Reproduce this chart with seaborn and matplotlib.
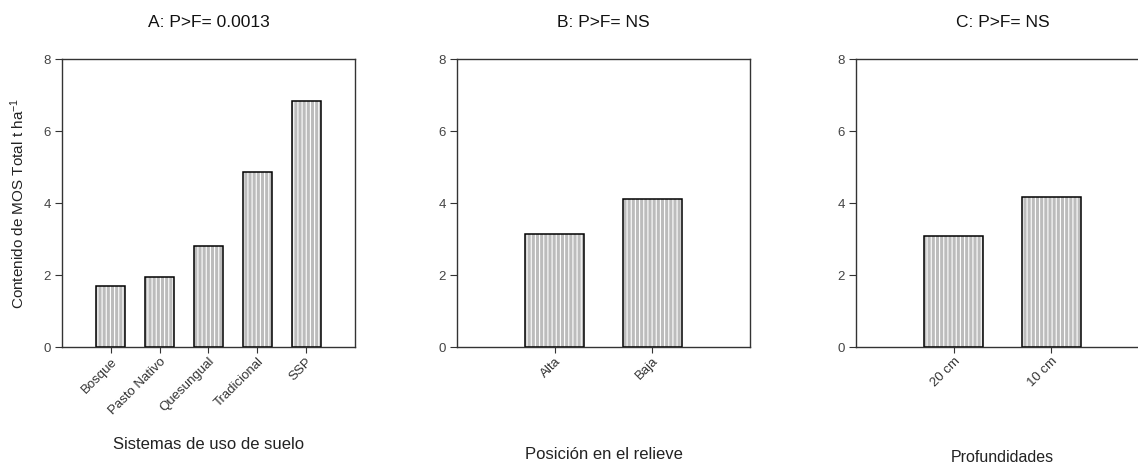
import matplotlib
matplotlib.use("Agg")
import matplotlib.pyplot as plt
import seaborn as sns

# Data
cats_a = ["Bosque", "Pasto Nativo", "Quesungual", "Tradicional", "SSP"]
vals_a = [1.69, 1.94, 2.81, 4.87, 6.84]
cats_b = ["Alta", "Baja"]
vals_b = [3.13, 4.12]
cats_c = ["20 cm", "10 cm"]
vals_c = [3.07, 4.18]
titles = ["A: P>F= 0.0013", "B: P>F= NS", "C: P>F= NS"]
xlabels = ["Sistemas de uso de suelo", "Posición en el relieve", "Profundidades"]
ylabel = "Contenido de MOS Total t ha$^{-1}$"
yticks = [0, 2, 4, 6, 8]

sns.set_style("white")
plt.rcParams["font.family"] = ["Liberation Sans", "DejaVu Sans"]
plt.rcParams["hatch.linewidth"] = 0.8
plt.rcParams["mathtext.fontset"] = "custom"
plt.rcParams["mathtext.rm"] = "Liberation Sans"
plt.rcParams["mathtext.it"] = "Liberation Sans"

W, H = 1138, 467
fig = plt.figure(figsize=(W / 100, H / 100), dpi=100)

def add_ax(left, right, top, bottom):
    return fig.add_axes([left / W, 1 - bottom / H, (right - left) / W, (bottom - top) / H])

axes = [add_ax(62, 355, 59, 347), add_ax(457, 750, 59, 347), add_ax(856, 1149, 59, 347)]
data = [(cats_a, vals_a), (cats_b, vals_b), (cats_c, vals_c)]
xlims = [(-1, 5), (-1, 2), (-1, 2)]
label_y = [-0.313, -0.347, -0.358]
label_fs = [12, 12, 11.5]
spine_col = "#333333"

for i, (ax, (cats, vals)) in enumerate(zip(axes, data)):
    sns.barplot(x=cats, y=vals, ax=ax, color="#bcbcbc", width=0.6,
                edgecolor="white", hatch="||||", linewidth=0, saturation=1)
    sns.barplot(x=cats, y=vals, ax=ax, color="black", width=0.6,
                fill=False, linewidth=1.1)
    ax.set_xlim(*xlims[i])
    ax.set_ylim(0, 8)
    ax.set_yticks(yticks)
    ax.set_yticklabels([str(t) for t in yticks])
    ax.set_title(titles[i], fontsize=12.5, pad=23, color="#111111")
    for s in ax.spines.values():
        s.set_color(spine_col)
        s.set_linewidth(1.0)
        s.set_visible(True)
    ax.tick_params(axis="y", direction="out", length=5, width=0.8, color=spine_col,
                   labelsize=9.5, labelcolor="#444444", pad=3, left=True)
    ax.tick_params(axis="x", direction="out", length=4, width=0.8, color=spine_col,
                   labelsize=9.5, labelcolor="#333333", pad=2, bottom=True)
    for lab in ax.get_xticklabels():
        lab.set_rotation(45)
        lab.set_ha("right")
        lab.set_rotation_mode("anchor")
    ax.set_xlabel(xlabels[i], fontsize=label_fs[i], color="#222222")
    ax.xaxis.set_label_coords(0.5, label_y[i])
    ax.set_ylabel("")

axes[0].set_ylabel(ylabel, fontsize=11, color="#222222")
axes[0].yaxis.set_label_coords(-0.12, 0.5)

fig.savefig("out.png", dpi=100)
